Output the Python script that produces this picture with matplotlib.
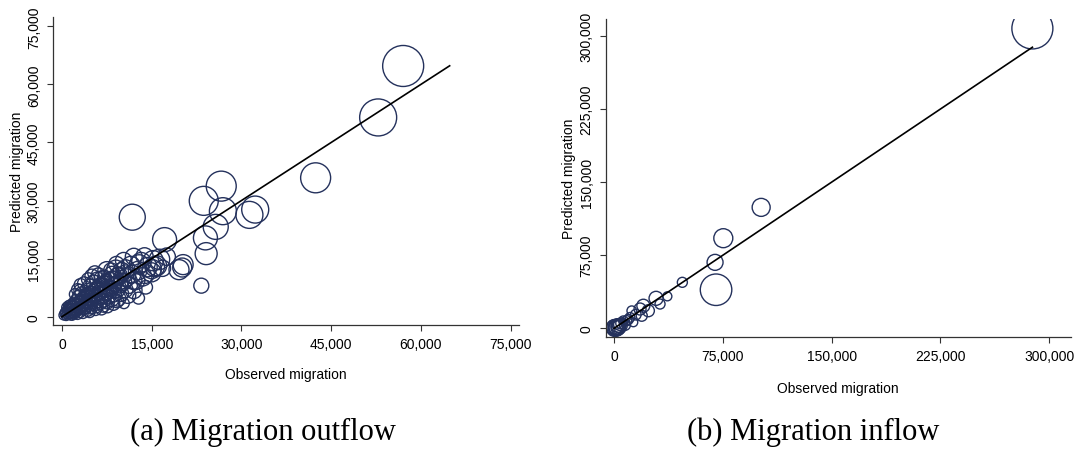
import numpy as np
import matplotlib
matplotlib.use("Agg")
import matplotlib.pyplot as plt
from matplotlib.ticker import FuncFormatter

plt.rcParams["font.family"] = ["Liberation Sans", "DejaVu Sans"]

# ── data: outflow (observed, predicted, bubble weight) ─────────────────────────
obs_out = [
    300, 500, 700, 900, 1000, 1200, 1300, 1500, 1600, 1800, 1900, 2000, 2100,
    2300, 2400, 2500, 2700, 2800, 2900, 3000, 3200, 3300, 3400, 3500, 3600, 3800, 3900, 4000,
    4100, 4200, 4300, 4500, 4600, 4700, 4800, 4900, 5100, 5200, 5300, 5400, 5600, 5700, 5800, 5900, 6000,
    6200, 6300, 6400, 6600, 6700, 6800, 6900, 7000, 7200, 7300, 7500, 7600, 7700, 7800, 8000,
    8100, 8300, 8400, 8500, 8700, 8900, 9000, 9200, 9400, 9500, 9700, 9800, 10000,
    10200, 10360, 10500, 10650, 10800, 11000, 11200, 11510, 11700, 11900, 12000,
    12370, 12650, 12900, 13240, 13500, 13870, 14000, 14300, 14960, 14990, 15250, 15500, 15830, 16300,
    800, 1400, 2200, 2600, 3100, 3700, 4400, 5000, 1700, 2600, 3500, 4600, 5600, 6600,
    7600, 8600, 9200, 1100, 3000, 5500, 6100, 7100, 8200, 9100, 10300, 12000, 13800,
    16800, 17500, 12800,
    600, 1000, 1400, 1700, 2100, 2400, 2800, 3100, 3400, 3700, 4100, 4400, 4800, 5200,
    5500, 5900, 6300, 6700, 7100, 7500, 8000, 8400, 8800, 9300, 9900, 10600,
    57030, 52850, 42400, 26620, 23700, 26900, 32300, 31330, 11750, 25700, 23980, 17150,
    24100, 20250, 19560, 20100, 23290,
]
pred_out = [
    400, 900, 300, 1500, 700, 2200, 1100, 500, 1800, 2800, 1200, 3500, 800,
    2000, 4200, 1500, 3000, 5200, 2300, 1200, 3800, 6000, 2600, 4700, 1900, 3200, 5500, 2400,
    4000, 6800, 1600, 3000, 5000, 7800, 3700, 2300, 6000, 4400, 8800, 3200, 5400, 7000, 2700, 9500, 4100,
    6300, 8000, 3500, 5000, 9800, 7000, 2900, 4300, 8500, 6000, 11900, 3800, 7500, 5200, 9400,
    6700, 4500, 10800, 8000, 5800, 9500, 12300, 7000, 4700, 10500, 8300, 6000, 11700,
    9000, 3460, 7000, 12320, 10100, 5500, 8200, 13170, 11000, 9300, 6800,
    9300, 11880, 13500, 14050, 10300, 11030, 7600, 12800, 11460, 12320, 14470, 12900, 13170, 14800,
    2400, 3000, 5800, 7000, 8200, 8600, 9600, 10500, 400, 600, 900, 1200, 1800, 2000,
    2600, 3300, 4000, 2800, 6800, 11300, 10800, 10200, 12000, 13600, 14500, 15500, 15600,
    12500, 15500, 4800,
    1200, 1900, 800, 2600, 1600, 3400, 2100, 4300, 3000, 5100, 3600, 5900, 4400, 6600,
    5200, 7400, 6000, 8200, 6800, 9000, 7200, 9800, 8400, 10600, 9200, 11200,
    64750, 51460, 35870, 33720, 29920, 27250, 27670, 26300, 25700, 23200, 20350, 19910,
    16290, 13450, 12150, 12700, 8020,
]
wt_out = [
    450, 500, 480, 550, 520, 600, 560, 540, 600, 650, 580, 700, 560,
    650, 750, 600, 700, 800, 660, 600, 760, 880, 700, 800, 640, 760, 880, 720,
    800, 950, 660, 760, 880, 1050, 840, 760, 950, 880, 1150, 840, 940, 1050, 800, 1200, 880,
    1000, 1150, 860, 980, 1250, 1100, 880, 940, 1200, 1080, 1600, 940, 1150, 1040, 1300,
    1150, 1050, 1450, 1300, 1150, 1400, 1600, 1250, 1150, 1500, 1350, 1250, 1550,
    1450, 560, 1300, 1650, 1500, 1250, 1400, 1750, 1600, 1500, 1350,
    1550, 1700, 1850, 1900, 1650, 1750, 900, 1850, 1800, 1850, 2000, 1900, 1950, 2050,
    500, 550, 650, 700, 800, 850, 900, 950, 500, 500, 550, 600, 650, 700,
    750, 800, 850, 520, 720, 1000, 980, 950, 1050, 1150, 1300, 1400, 1450,
    1300, 1500, 700,
    480, 520, 500, 560, 540, 620, 600, 700, 660, 760, 720, 820, 780, 880,
    840, 950, 900, 1050, 980, 1100, 1050, 1200, 1150, 1300, 1250, 1400,
    8300, 6760, 4440, 4440, 4150, 3600, 3600, 3600, 3340, 3090, 2840, 2840,
    2390, 1975, 1975, 1780, 1110,
]
fit_out = [0, 64800]
ticks_out = [0, 15000, 30000, 45000, 60000, 75000]

# ── data: inflow ────────────────────────────────────────────────────────────────
obs_in = [
    500, 1200, 2000, 2500, 3200, 4140, 1860, 3800, 5000, 6410, 7500, 8740, 9800,
    11030, 13310, 12210, 15000, 17930, 19100, 20210, 23660, 28970, 31720, 36760,
    47100, 69660, 70340, 75340, 101450, 288480, 300, 1500, 2800,
]
pred_in = [
    300, 1500, 600, 2800, 1200, 2670, 4410, 4000, 5200, 7800, 3500, 7800, 9000,
    11290, 6160, 18070, 14000, 19810, 12930, 23200, 18070, 30790, 24940, 32840,
    47210, 67710, 39600, 92500, 124140, 307780, 1000, 200, 400,
]
wt_in = [
    1400, 1100, 1200, 900, 1000, 1000, 500, 700, 600, 450, 600, 500, 500,
    450, 380, 450, 550, 710, 600, 830, 710, 970, 494, 400,
    494, 1260, 4900, 1780, 1600, 8300, 1200, 1300, 1000,
]
fit_in = [0, 288500]
ticks_in = [0, 75000, 150000, 225000, 300000]

NAVY = "#24315c"
DPI = 100


def _size(w):
    # bubble diameter in px grows with sqrt(weight)
    d_px = 0.45 * np.sqrt(np.asarray(w, float))
    return (d_px * 72 / DPI) ** 2


def panel(ax, obs, pred, wt, fit, ticks, xlim, ylim, ylab_x):
    ax.scatter(obs, pred, s=_size(wt), facecolors="none",
               edgecolors=NAVY, linewidths=1.0, zorder=2)
    ax.plot(fit, fit, color="black", lw=1.2, zorder=3)
    ax.set_xlim(xlim)
    ax.set_ylim(ylim)
    ax.set_xticks(ticks)
    ax.set_yticks(ticks)
    fmt = FuncFormatter(lambda v, _: f"{v:,.0f}")
    ax.xaxis.set_major_formatter(fmt)
    ax.yaxis.set_major_formatter(fmt)
    for s in ("top", "right"):
        ax.spines[s].set_visible(False)
    for s in ("left", "bottom"):
        ax.spines[s].set_color("#333333")
        ax.spines[s].set_linewidth(0.9)
    ax.tick_params(length=4.5, width=0.8, color="#333333", labelsize=10, pad=4)
    ax.tick_params(axis="y", labelrotation=90)
    for t in ax.get_yticklabels():
        t.set_va("center")
    ax.set_xlabel("Observed migration", fontsize=10, va="center")
    ax.xaxis.set_label_coords(0.5, -0.160)
    ax.set_ylabel("Predicted migration", fontsize=10, va="center")
    ax.yaxis.set_label_coords(ylab_x, 0.5)


fig = plt.figure(figsize=(10.75, 4.52), dpi=DPI)
ax1 = fig.add_axes([0.0490, 0.2794, 0.4340, 0.6801])
ax2 = fig.add_axes([0.5633, 0.2515, 0.4326, 0.7042])

panel(ax1, obs_out, pred_out, wt_out, fit_out, ticks_out,
      (-1554, 76430), (-2066, 77320), -0.0765)
panel(ax2, obs_in, pred_in, wt_in, fit_in, ticks_in,
      (-5862, 314830), (-9237, 317450), -0.0785)

cap = dict(family=["Liberation Serif", "DejaVu Serif"], fontsize=22,
           ha="center", va="center")
fig.text(263 / 1075, 1 - 432 / 452, "(a) Migration outflow", **cap)
fig.text(813 / 1075, 1 - 432 / 452, "(b) Migration inflow", **cap)

fig.savefig("out.png", dpi=DPI)
